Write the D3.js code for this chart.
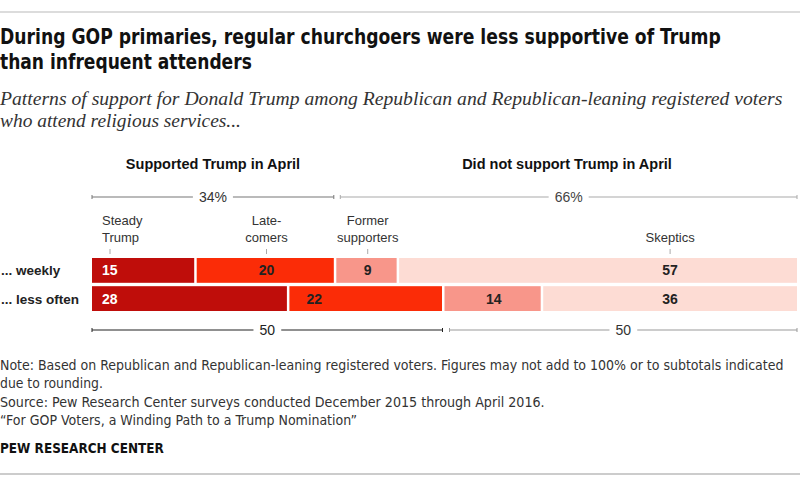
<!DOCTYPE html>
<html lang="en">
<head>
<meta charset="utf-8">
<style>
  body { margin: 0; background: #fff; }
  svg { display: block; }
</style>
</head>
<body>
<script src="https://d3js.org/d3.v7.min.js"></script>
<script>
  // data
  const rows = ["... weekly", "... less often"];
  const categories = ["Steady Trump", "Late-comers", "Former supporters", "Skeptics"];
  const weekly = [15, 20, 9, 57];
  const lessOften = [28, 22, 14, 36];
  const groupLabels = ["Supported Trump in April", "Did not support Trump in April"];
  const topTotals = ["34%", "66%"];
  const bottomTotals = ["50", "50"];

  const colors = ["#bf0d0a", "#fb2c07", "#f8968a", "#fddcd4"];
  const textColors = ["#fff", "#222", "#222", "#222"];

  const W = 800, H = 494;
  const svg = d3.select("body").append("svg").attr("width", W).attr("height", H);
  const condensed = "'Liberation Sans Narrow','DejaVu Sans Condensed',sans-serif";
  const sans = "'Liberation Sans',Arial,sans-serif";

  // rules
  svg.append("line").attr("x1", 0).attr("x2", W).attr("y1", 12).attr("y2", 12)
    .attr("stroke", "#d0d0d0").attr("stroke-width", 1.5);
  svg.append("line").attr("x1", 0).attr("x2", W).attr("y1", 474).attr("y2", 474)
    .attr("stroke", "#bbb").attr("stroke-width", 1.5);

  // header text, squeezed horizontally to the widths in the picture
  function line(txt, x, y, width, font, size, weight, style, fill) {
    const t = svg.append("text").attr("x", 0).attr("y", 0).text(txt)
      .attr("font-family", font).attr("font-size", size)
      .attr("font-weight", weight).attr("font-style", style).attr("fill", fill);
    const w = t.node().getComputedTextLength();
    const k = width ? width / w : 1;
    t.attr("transform", "translate(" + x + "," + y + ") scale(" + k + ",1)");
    return t;
  }
  line("During GOP primaries, regular churchgoers were less supportive of Trump", 0, 44, 721, condensed, 21, "bold", "normal", "#111");
  line("than infrequent attenders", 0, 69, 252, condensed, 21, "bold", "normal", "#111");
  line("Patterns of support for Donald Trump among Republican and Republican-leaning registered voters", 0, 105, 783, "'Liberation Serif',serif", 18, "normal", "italic", "#333");
  line("who attend religious services...", 0, 127, 241, "'Liberation Serif',serif", 18, "normal", "italic", "#333");

  // scales: each row is normalised to its own total
  const data = [weekly, lessOften];
  const y = d3.scaleBand().domain(rows).range([258, 311]).paddingInner(0.12);
  const xs = data.map(vals => d3.scaleLinear().domain([0, d3.sum(vals)]).range([92, 797]));

  const segs = data.map((vals, r) => {
    let acc = 0;
    return vals.map((v, c) => {
      const s = { row: r, col: c, v: v, x0: xs[r](acc), x1: xs[r](acc + v) };
      acc += v;
      return s;
    });
  });

  // label x positions
  const lastCenter = d3.max(segs, s => (s[3].x0 + s[3].x1) / 2);
  function labelPos(s) {
    if (s.col === 0) return { x: s.x0 + 10, anchor: "start" };
    if (s.col === 3) return { x: lastCenter, anchor: "middle" };
    if (s.row === 1 && s.col === 1) return { x: s.x0 + 17, anchor: "start" };
    return { x: (s.x0 + s.x1) / 2, anchor: "middle" };
  }

  const g = svg.append("g");
  segs.forEach((rowSegs, r) => {
    const yy = y(rows[r]);
    const bh = y.bandwidth();
    g.selectAll(null).data(rowSegs).enter().append("rect")
      .attr("x", d => d.x0)
      .attr("y", yy)
      .attr("width", d => d.col === 3 ? d.x1 - d.x0 : d.x1 - d.x0 - 2.5)
      .attr("height", bh)
      .attr("fill", d => colors[d.col]);
    g.selectAll(null).data(rowSegs).enter().append("text")
      .attr("x", d => labelPos(d).x)
      .attr("y", yy + bh / 2 + 5)
      .attr("text-anchor", d => labelPos(d).anchor)
      .attr("font-family", sans).attr("font-size", 14).attr("font-weight", "bold")
      .attr("fill", d => textColors[d.col])
      .text(d => d.v);
    svg.append("text").attr("x", 1).attr("y", yy + bh / 2 + 5)
      .attr("font-family", sans).attr("font-size", 13.5).attr("font-weight", "bold")
      .attr("fill", "#222").text(rows[r]);
  });

  // category labels above the bars, aligned with the weekly labels
  const catLines = [["Steady", "Trump"], ["Late-", "comers"], ["Former", "supporters"], ["Skeptics"]];
  segs[0].forEach((s, c) => {
    const p = labelPos(s);
    const lines = catLines[c];
    const t = svg.append("text").attr("text-anchor", p.anchor)
      .attr("font-family", sans).attr("font-size", 13).attr("fill", "#333");
    lines.forEach((ln, i) => {
      t.append("tspan").attr("x", p.x).attr("y", 242 - (lines.length - 1 - i) * 17).text(ln);
    });
    const tx = p.anchor === "start" ? p.x + 8 : p.x;
    svg.append("line").attr("x1", tx).attr("x2", tx).attr("y1", 249).attr("y2", 254)
      .attr("stroke", "#aaa").attr("stroke-width", 1);
  });

  // brackets
  function bracket(x0, x1, yy, label, stroke, fill) {
    const b = svg.append("g");
    b.append("line").attr("x1", x0).attr("x2", x1).attr("y1", yy).attr("y2", yy)
      .attr("stroke", stroke).attr("stroke-width", 1.2);
    [x0, x1].forEach(x => b.append("line").attr("x1", x).attr("x2", x)
      .attr("y1", yy - 2).attr("y2", yy + 2).attr("stroke", stroke).attr("stroke-width", 1));
    const t = b.append("text").attr("x", (x0 + x1) / 2).attr("y", yy + 5)
      .attr("text-anchor", "middle").attr("font-family", sans).attr("font-size", 14)
      .attr("fill", fill).text(label);
    const bb = t.node().getBBox();
    b.insert("rect", "text").attr("x", bb.x - 6).attr("y", yy - 3)
      .attr("width", bb.width + 12).attr("height", 6).attr("fill", "#fff");
  }
  const wk = segs[0], lo = segs[1];
  bracket(wk[0].x0, wk[1].x1 - 2.5, 197, topTotals[0], "#777", "#333");
  bracket(wk[2].x0 + 4, wk[3].x1, 197, topTotals[1], "#aaa", "#444");
  bracket(lo[0].x0, lo[1].x1 - 2, 330, bottomTotals[0], "#222", "#222");
  bracket(lo[2].x0 + 5, lo[3].x1, 330, bottomTotals[1], "#999", "#333");

  // group headers
  const grpCenters = [213, 567];
  groupLabels.forEach((gl, i) => {
    svg.append("text").attr("x", grpCenters[i]).attr("y", 169).attr("text-anchor", "middle")
      .attr("font-family", sans).attr("font-size", 14.5).attr("font-weight", "bold")
      .attr("fill", "#111").text(gl);
  });

  // notes
  line("Note: Based on Republican and Republican-leaning registered voters. Figures may not add to 100% or to subtotals indicated", 0, 370, 784, condensed, 14, "normal", "normal", "#333");
  line("due to rounding.", 0, 388, 103, condensed, 14, "normal", "normal", "#333");
  line("Source: Pew Research Center surveys conducted December 2015 through April 2016.", 0, 407, 545, condensed, 14, "normal", "normal", "#333");
  line("\u201cFor GOP Voters, a Winding Path to a Trump Nomination\u201d", 0, 425, 357, condensed, 14, "normal", "normal", "#333");
  line("PEW RESEARCH CENTER", 0, 453, 164, condensed, 14, "bold", "normal", "#111");
</script>
</body>
</html>
